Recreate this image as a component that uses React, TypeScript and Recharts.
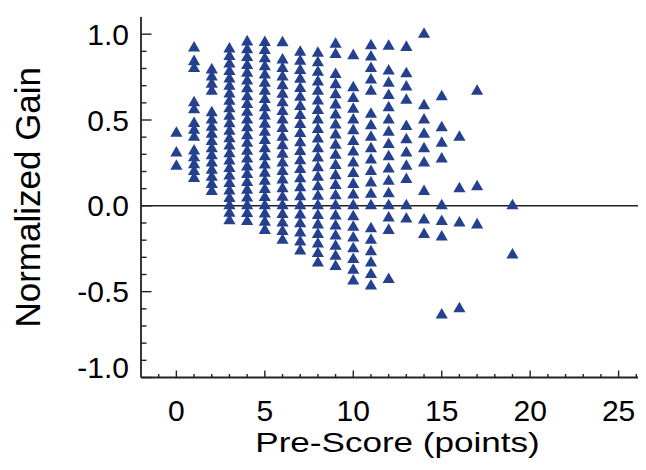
import React from 'react'
import { ScatterChart, Scatter, XAxis, YAxis, ZAxis, ReferenceLine } from 'recharts'

// normalized gain, one list per pre-score
const preScores = [0, 1, 2, 3, 4, 5, 6, 7, 8, 9, 10, 11, 12, 13, 14, 15, 16, 17, 19]

const gain0 = [0.423, 0.308, 0.231]
const gain1 = [0.92, 0.84, 0.8, 0.6, 0.56, 0.48, 0.44, 0.4, 0.32, 0.28, 0.24, 0.2, 0.16]
const gain2 = [0.792, 0.75, 0.708, 0.667, 0.542, 0.5, 0.458, 0.417, 0.375, 0.333, 0.292, 0.25, 0.208, 0.167, 0.125, 0.083]
const gain3 = [0.913, 0.87, 0.826, 0.783, 0.739, 0.696, 0.652, 0.609, 0.565, 0.522, 0.478, 0.435, 0.391, 0.348, 0.304, 0.261, 0.217, 0.174, 0.13, 0.087, 0.043, 0, -0.043, -0.087]
const gain4 = [0.955, 0.909, 0.864, 0.818, 0.773, 0.727, 0.682, 0.636, 0.591, 0.545, 0.5, 0.455, 0.409, 0.364, 0.318, 0.273, 0.227, 0.182, 0.136, 0.091, 0.045, 0, -0.045, -0.091]
const gain5 = [0.952, 0.905, 0.857, 0.81, 0.762, 0.714, 0.667, 0.619, 0.571, 0.524, 0.476, 0.429, 0.381, 0.333, 0.286, 0.238, 0.19, 0.143, 0.095, 0.048, 0, -0.048, -0.095, -0.143]
const gain6 = [0.95, 0.85, 0.8, 0.75, 0.7, 0.65, 0.6, 0.55, 0.5, 0.45, 0.4, 0.35, 0.3, 0.25, 0.2, 0.15, 0.1, 0.05, 0, -0.05, -0.1, -0.15, -0.2]
const gain7 = [0.895, 0.842, 0.789, 0.737, 0.684, 0.632, 0.579, 0.526, 0.474, 0.421, 0.368, 0.316, 0.263, 0.211, 0.158, 0.105, 0.053, 0, -0.053, -0.105, -0.158, -0.211, -0.263]
const gain8 = [0.889, 0.833, 0.778, 0.722, 0.667, 0.611, 0.556, 0.5, 0.444, 0.389, 0.333, 0.278, 0.222, 0.167, 0.111, 0.056, 0, -0.056, -0.111, -0.167, -0.222, -0.278, -0.333]
const gain9 = [0.941, 0.882, 0.765, 0.706, 0.647, 0.588, 0.529, 0.471, 0.412, 0.353, 0.294, 0.235, 0.176, 0.118, 0.059, 0, -0.059, -0.118, -0.176, -0.235, -0.294, -0.353]
const gain10 = [0.875, 0.688, 0.625, 0.563, 0.5, 0.438, 0.375, 0.313, 0.25, 0.188, 0.125, 0.063, 0, -0.063, -0.125, -0.188, -0.25, -0.313, -0.375, -0.438]
const gain11 = [0.933, 0.867, 0.8, 0.733, 0.667, 0.533, 0.467, 0.4, 0.333, 0.267, 0.2, 0.133, 0.067, 0, -0.133, -0.2, -0.267, -0.333, -0.4, -0.467]
const gain12 = [0.929, 0.786, 0.714, 0.643, 0.571, 0.5, 0.429, 0.357, 0.286, 0.214, 0.143, 0.071, 0, -0.071, -0.143, -0.429]
const gain13 = [0.923, 0.769, 0.692, 0.615, 0.462, 0.385, 0.308, 0.231, 0.154, 0, -0.077]
const gain14 = [1.0, 0.583, 0.5, 0.417, 0.333, 0.25, 0.083, -0.083, -0.167]
const gain15 = [0.636, 0.455, 0.364, 0.273, 0, -0.091, -0.182, -0.636]
const gain16 = [0.4, 0.1, -0.1, -0.6]
const gain17 = [0.667, 0.111, -0.111]
const gain19 = [0, -0.286]

const gainColumns = [
  gain0, gain1, gain2, gain3, gain4, gain5, gain6, gain7, gain8, gain9,
  gain10, gain11, gain12, gain13, gain14, gain15, gain16, gain17, gain19,
]

const xTicks = [-1, 0, 1, 2, 3, 4, 5, 6, 7, 8, 9, 10, 11, 12, 13, 14, 15, 16, 17, 18, 19, 20, 21, 22, 23, 24, 25, 26]
const yTicks = [-1.0, -0.9, -0.8, -0.7, -0.6, -0.5, -0.4, -0.3, -0.2, -0.1, 0, 0.1, 0.2, 0.3, 0.4, 0.5, 0.6, 0.7, 0.8, 0.9, 1.0]

const points = gainColumns.flatMap((col, i) => col.map((g) => ({ pre: preScores[i], gain: g })))

const INK = '#222'
const MARK = '#24408e'
const FONT = '"Liberation Sans", Arial, Helvetica, sans-serif'

const isMajorX = (v: number) => v % 5 === 0
const isMajorY = (v: number) => Math.round(v * 10) % 5 === 0

const BottomTick = (props: any) => {
  const { x, y, payload } = props
  const v = payload.value
  const major = isMajorX(v)
  return (
    <g>
      <line x1={x} x2={x} y1={y} y2={y - (major ? 7 : 3.5)} stroke={INK} strokeWidth={1.4} />
      {major && (
        <text x={x} y={y + 43} textAnchor="middle" fontSize={30} fontFamily={FONT} fill="#000">
          {v}
        </text>
      )}
    </g>
  )
}

const TopTick = (props: any) => {
  const { x, y, payload } = props
  const major = isMajorX(payload.value)
  return <line x1={x} x2={x} y1={y} y2={y + (major ? 7 : 3.5)} stroke={INK} strokeWidth={1.4} />
}

const LeftTick = (props: any) => {
  const { x, y, payload } = props
  const v = payload.value
  const major = isMajorY(v)
  return (
    <g>
      <line x1={x} x2={x + (major ? 10.5 : 5.5)} y1={y} y2={y} stroke={INK} strokeWidth={1.4} />
      {major && (
        <text x={x - 12} y={v === -1 ? y : y + 10.5} textAnchor="end" fontSize={30} fontFamily={FONT} fill="#000">
          {v.toFixed(1)}
        </text>
      )}
    </g>
  )
}

const RightTick = (props: any) => {
  const { x, y, payload } = props
  const major = isMajorY(payload.value)
  return <line x1={x} x2={x - (major ? 10.5 : 5.5)} y1={y} y2={y} stroke={INK} strokeWidth={1.4} />
}

// the x title in the original is set wide
const XTitle = (props: any) => {
  const vb = props.viewBox
  return (
    <text
      transform={`translate(${vb.x + vb.width / 2}, ${vb.y + 74}) scale(1.23, 1)`}
      textAnchor="middle"
      fontSize={28.5}
      fontFamily={FONT}
      fill="#000"
    >
      Pre-Score (points)
    </text>
  )
}

const YTitle = (props: any) => {
  const vb = props.viewBox
  const cy = vb.y + vb.height / 2
  return (
    <text x={32} y={cy} transform={`rotate(-90, 32, ${cy})`} textAnchor="middle" fontSize={35} fontFamily={FONT} fill="#000">
      Normalized Gain
    </text>
  )
}

const App = () => {
  // the plot frame runs past the right edge of the window, as in the original figure
  return (
    <div style={{ width: 638, height: 454, overflow: 'hidden' }}>
      <ScatterChart width={646} height={454} margin={{ top: 9, right: 0, bottom: 0, left: 0 }}>
        <XAxis
          dataKey="pre"
          type="number"
          domain={[-2, 27]}
          allowDataOverflow
          ticks={xTicks}
          interval={0}
          height={84.5}
          tickSize={0}
          tickMargin={0}
          tickLine={false}
          axisLine={{ stroke: INK, strokeWidth: 1.8 }}
          tick={<BottomTick />}
          label={XTitle}
        />
        <XAxis
          xAxisId="top"
          orientation="top"
          type="number"
          domain={[-2, 27]}
          allowDataOverflow
          ticks={xTicks}
          interval={0}
          height={0}
          tickSize={0}
          tickMargin={0}
          tickLine={false}
          axisLine={{ stroke: INK, strokeWidth: 1.8 }}
          tick={<TopTick />}
        />
        <YAxis
          dataKey="gain"
          type="number"
          domain={[-1, 1.1]}
          allowDataOverflow
          ticks={yTicks}
          interval={0}
          width={133}
          tickSize={0}
          tickMargin={0}
          tickLine={false}
          axisLine={{ stroke: INK, strokeWidth: 1.8 }}
          tick={<LeftTick />}
          label={YTitle}
        />
        <YAxis
          yAxisId="right"
          orientation="right"
          type="number"
          domain={[-1, 1.1]}
          allowDataOverflow
          ticks={yTicks}
          interval={0}
          width={0}
          tickSize={0}
          tickMargin={0}
          tickLine={false}
          axisLine={{ stroke: INK, strokeWidth: 1.8 }}
          tick={<RightTick />}
        />
        <ZAxis type="number" range={[17, 17]} />
        <ReferenceLine y={0} stroke={INK} strokeWidth={1.5} />
        <Scatter data={points} shape="triangle" fill={MARK} isAnimationActive={false} />
      </ScatterChart>
    </div>
  )
}

export default App
